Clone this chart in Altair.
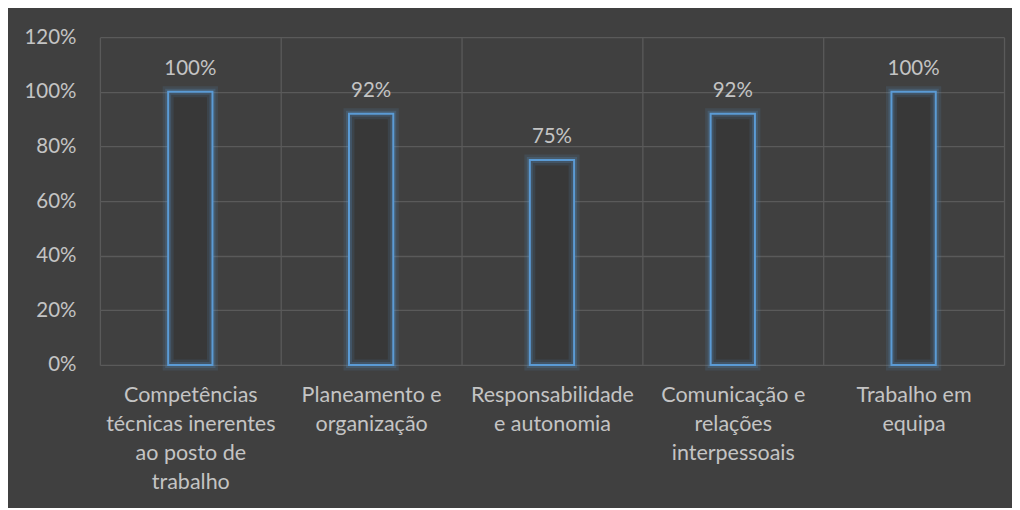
import altair as alt
import pandas as pd

categories = [
    "Competências|técnicas inerentes|ao posto de|trabalho",
    "Planeamento e|organização",
    "Responsabilidade|e autonomia",
    "Comunicação e|relações|interpessoais",
    "Trabalho em|equipa",
]
values = [1.00, 0.92, 0.75, 0.92, 1.00]

df = pd.DataFrame({"cat": categories, "val": values})

FONT = "Lato"
TXT = "#c4c4c4"
GRID = "#5a5a5a"
BLUE = "#5b9bd5"

x = alt.X("cat:N", sort=categories, title=None,
          scale=alt.Scale(paddingInner=0, paddingOuter=0),
          axis=alt.Axis(labelAngle=0, labelExpr="split(datum.label, '|')",
                        labelLineHeight=29, labelPadding=20, labelFontSize=21.5,
                        labelColor=TXT, labelFont=FONT, ticks=False, domain=False,
                        grid=True, gridColor=GRID, gridWidth=1.3, tickBand="extent",
                        labelBaseline="top", labelLimit=300))
y = alt.Y("val:Q", title=None,
          scale=alt.Scale(domain=[0, 1.2], nice=False),
          axis=alt.Axis(format=".0%", values=[0, 0.2, 0.4, 0.6, 0.8, 1.0, 1.2],
                        labelFontSize=20.5, labelColor=TXT, labelFont=FONT,
                        labelPadding=24, ticks=False, domain=False,
                        grid=True, gridColor=GRID, gridWidth=1.3))

base = alt.Chart(df).encode(x=x, y=y)

W = alt.RelativeBandSize(0.245)
glow = base.mark_bar(width=W, fill="#383838",
                     stroke=BLUE, strokeWidth=11, strokeOpacity=0.12)
glow2 = base.mark_bar(width=W, fillOpacity=0,
                      stroke=BLUE, strokeWidth=6, strokeOpacity=0.2)
bars = base.mark_bar(width=W, fillOpacity=0,
                     stroke=BLUE, strokeWidth=2)
labels = base.mark_text(baseline="alphabetic", dy=-17, fontSize=20.5,
                        font=FONT, color=TXT).encode(text=alt.Text("val:Q", format=".0%"))

chart = (glow + glow2 + bars + labels).properties(
    width=905, height=328,
    autosize=alt.AutoSizeParams(type="none"),
    padding={"left": 92, "top": 29, "right": 8, "bottom": 143},
    background="#404040",
).configure_view(stroke=None)

chart.save("out.html", embed_options={"renderer": "svg", "actions": False})
